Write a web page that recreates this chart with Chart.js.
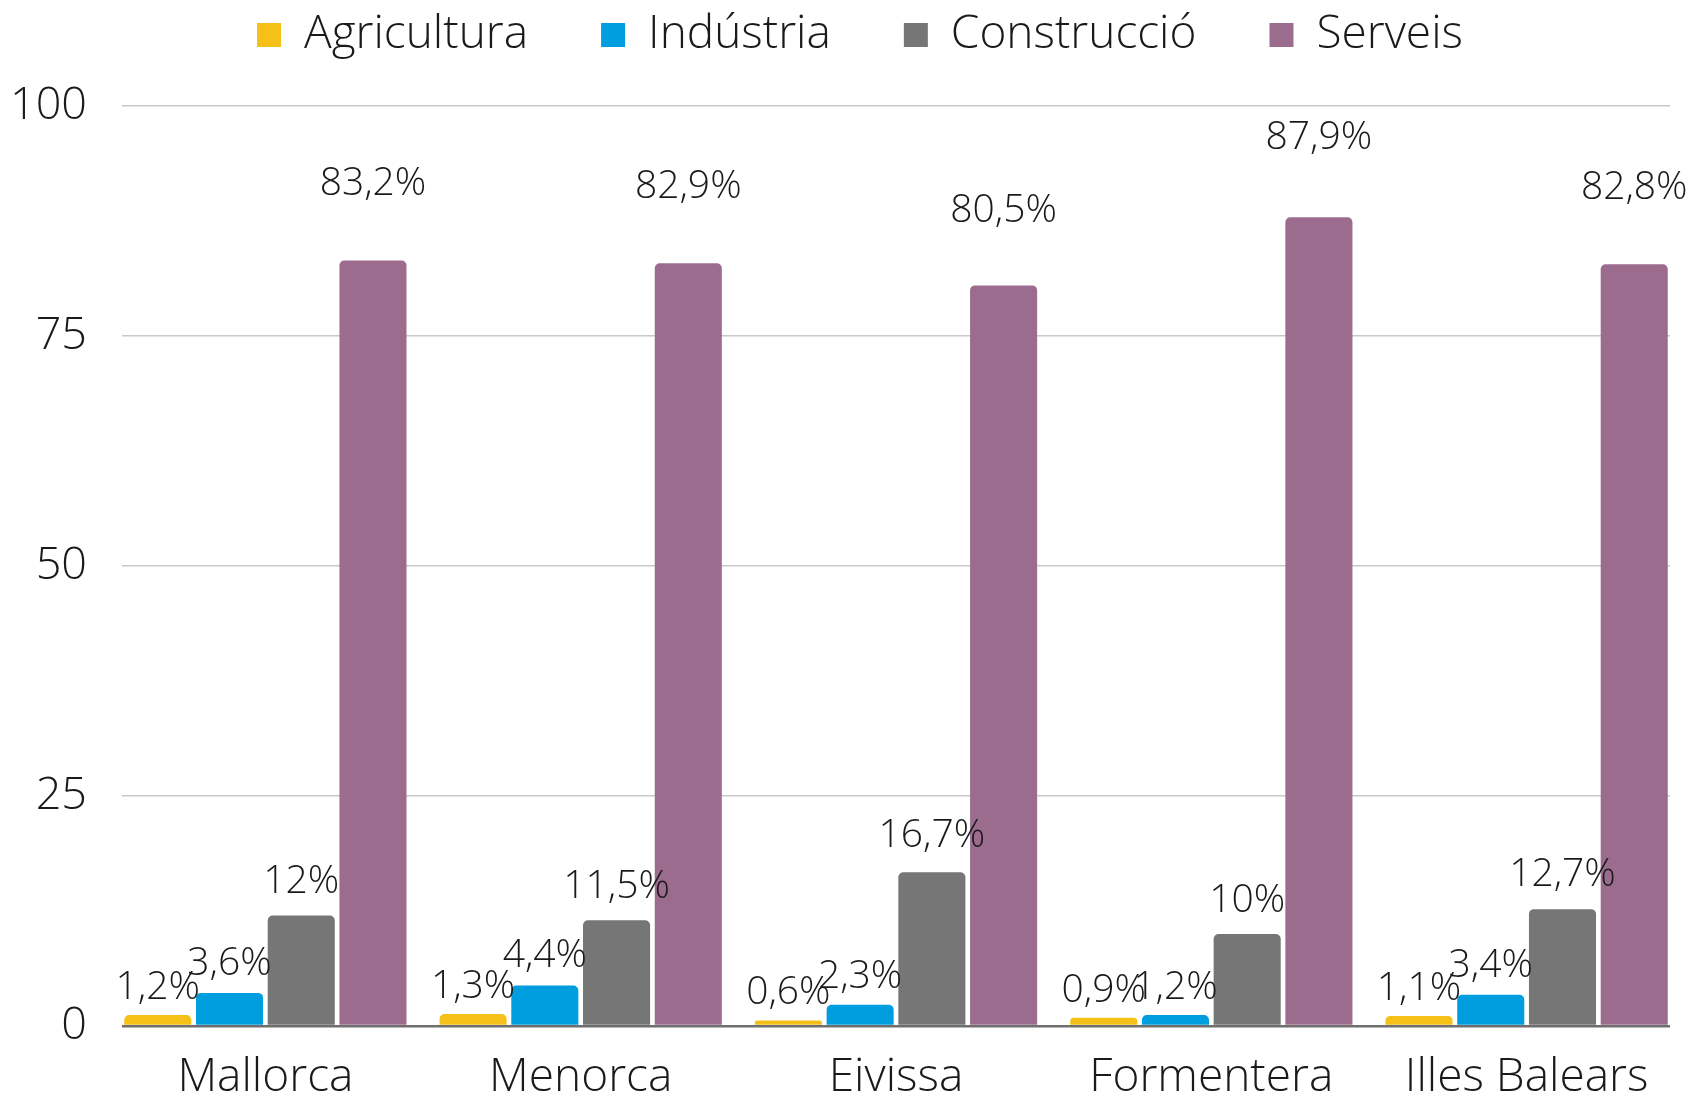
<!DOCTYPE html>
<html>
<head>
<meta charset="utf-8">
<script src="https://cdn.jsdelivr.net/npm/chart.js@4/dist/chart.umd.min.js"></script>
<style>
  html, body { margin: 0; padding: 0; background: #ffffff; }
  #wrap { width: 1692px; height: 1098px; position: relative; }
</style>
</head>
<body>
<div id="wrap"><canvas id="c" width="1692" height="1098"></canvas></div>
<script>
const categories = ['Mallorca', 'Menorca', 'Eivissa', 'Formentera', 'Illes Balears'];
const seriesNames = ['Agricultura', 'Indústria', 'Construcció', 'Serveis'];
const agricultura = [1.2, 1.3, 0.6, 0.9, 1.1];
const industria = [3.6, 4.4, 2.3, 1.2, 3.4];
const construccio = [12, 11.5, 16.7, 10, 12.7];
const serveis = [83.2, 82.9, 80.5, 87.9, 82.8];
const yTicks = [0, 25, 50, 75, 100];
const colors = ['#F5C118', '#009EDF', '#767676', '#9C6C8F'];

const FONT = "'Open Sans', 'Noto Sans', sans-serif";

function toPoints(arr) { return arr.map((v, i) => ({ x: i, y: v })); }
function fmt(v) { return String(v).replace('.', ',') + '%'; }

const valueLabels = {
  id: 'valueLabels',
  afterDatasetsDraw(chart) {
    const ctx = chart.ctx;
    const y = chart.scales.y;
    ctx.save();
    ctx.font = '300 39px ' + FONT;
    ctx.fillStyle = '#1a1a1a';
    ctx.textAlign = 'center';
    ctx.textBaseline = 'alphabetic';
    chart.data.datasets.forEach((ds, di) => {
      const meta = chart.getDatasetMeta(di);
      meta.data.forEach((el, i) => {
        const v = ds.data[i].y;
        const yy = y.getPixelForValue(v * 1.065 + 1.7);
        ctx.fillText(fmt(v), el.x, yy);
      });
    });
    ctx.restore();
  }
};

const legendShift = {
  id: 'legendShift',
  afterLayout(chart) {
    if (chart.legend) { chart.legend.left += 18; chart.legend.right += 18; }
  }
};

const datasets = [agricultura, industria, construccio, serveis].map((arr, k) => ({
  label: seriesNames[k],
  data: toPoints(arr),
  backgroundColor: colors[k],
  borderRadius: 5,
  borderSkipped: 'start',
  categoryPercentage: 0.91,
  barPercentage: 0.935
}));

new Chart(document.getElementById('c'), {
  type: 'bar',
  data: { datasets },
  plugins: [valueLabels, legendShift],
  options: {
    responsive: false,
    animation: false,
    layout: { padding: { top: -61, left: 14, right: 22, bottom: 0 } },
    plugins: {
      legend: {
        position: 'top',
        align: 'center',
        labels: {
          font: { family: FONT, size: 46, weight: '300' },
          color: '#1a1a1a',
          boxWidth: 24,
          boxHeight: 24,
          padding: 73
        }
      },
      tooltip: { enabled: false }
    },
    scales: {
      x: {
        type: 'linear',
        bounds: 'data',
        offset: false,
        min: -0.4547,
        max: 4.4547,
        afterBuildTicks: (s) => { s.ticks = categories.map((c, i) => ({ value: i })); },
        afterFit: (s) => { s.height = 72; },
        grid: { display: false, drawTicks: false },
        border: { display: false },
        ticks: {
          autoSkip: false,
          maxRotation: 0,
          padding: 24,
          font: { family: FONT, size: 46, weight: '300' },
          color: '#1a1a1a',
          callback: (v) => (Number.isInteger(v) && categories[v] !== undefined) ? categories[v] : ''
        }
      },
      xTop: {
        type: 'linear',
        position: 'top',
        display: true,
        offset: false,
        grid: { display: false, drawTicks: false },
        border: { display: false },
        ticks: { display: false },
        afterFit: (s) => { s.height = 38; }
      },
      y: {
        min: 0,
        max: 100,
        afterBuildTicks: (s) => { s.ticks = yTicks.map(v => ({ value: v })); },
        afterFit: (s) => { s.width = 108; },
        grid: {
          drawTicks: false,
          color: (c) => (c.tick && c.tick.value === 0) ? '#6f6f6f' : '#c8c8c8',
          lineWidth: (c) => (c.tick && c.tick.value === 0) ? 2.5 : 1.6
        },
        border: { display: false },
        ticks: {
          padding: 35,
          font: { family: FONT, size: 45, weight: '300' },
          color: '#1a1a1a'
        }
      }
    }
  }
});
</script>
</body>
</html>
